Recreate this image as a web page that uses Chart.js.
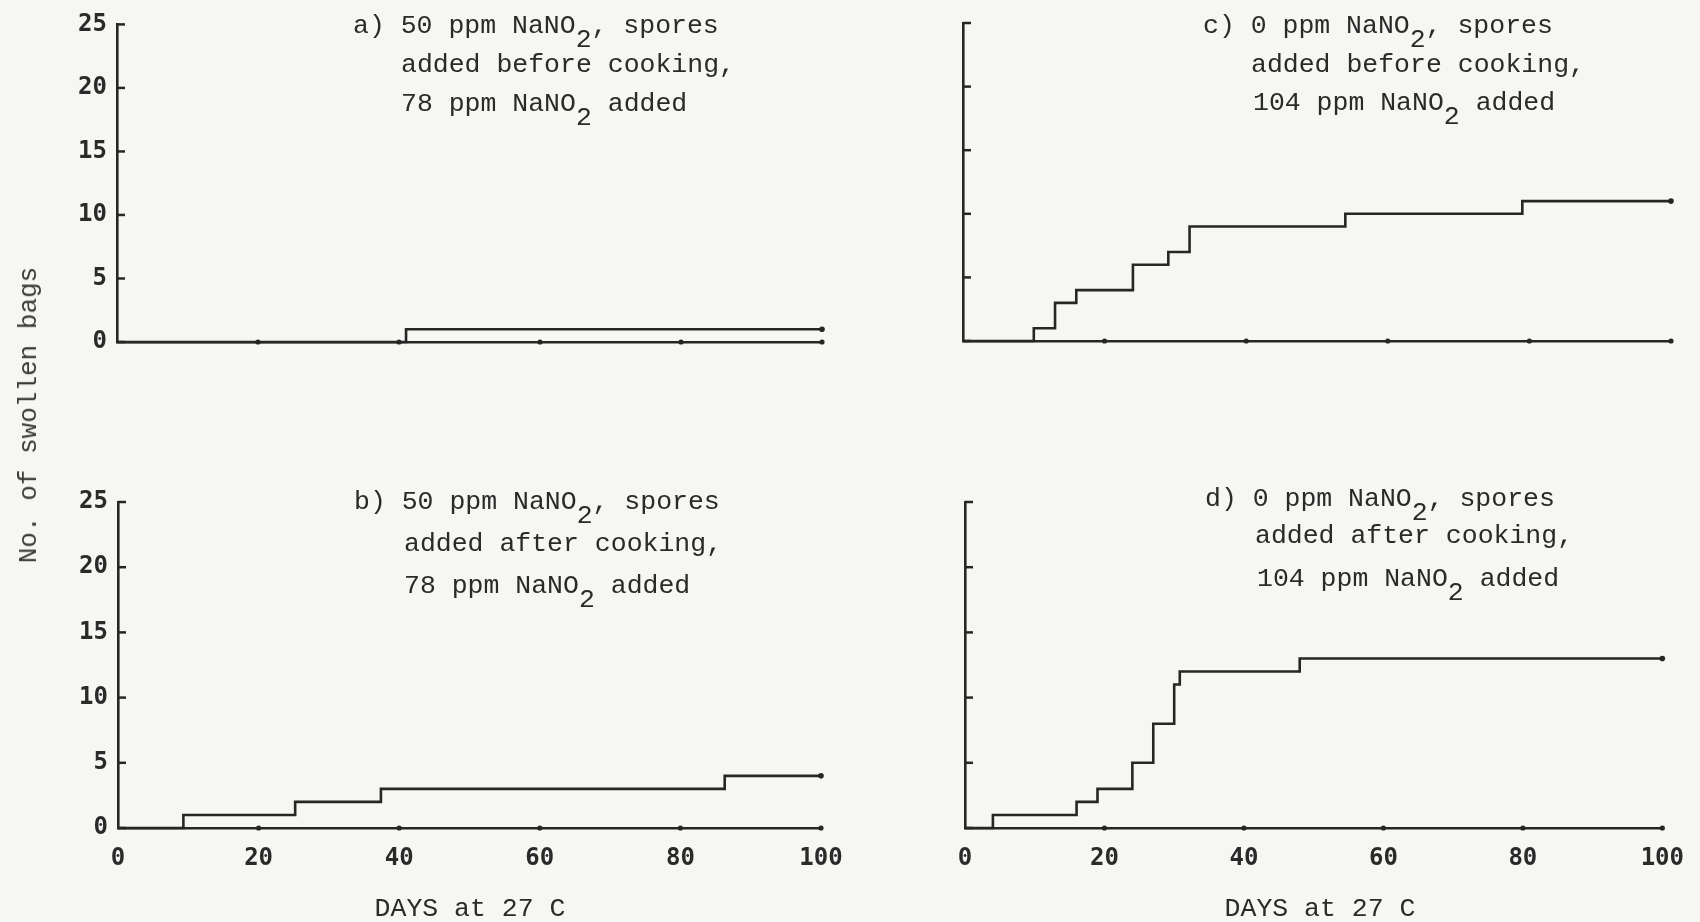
<!DOCTYPE html>
<html>
<head>
<meta charset="utf-8">
<script src="https://cdn.jsdelivr.net/npm/chart.js@4/dist/chart.umd.min.js"></script>
<style>
  html, body { margin: 0; padding: 0; background: #f6f6f3; }
  #wrap { position: relative; width: 1700px; height: 922px; background: #f6f6f3; overflow: hidden; }
  canvas { position: absolute; left: 0; top: 0; }
  .t { position: absolute; font-family: "Liberation Mono", "DejaVu Sans Mono", monospace; font-size: 26.5px; color: #2a2a2a; white-space: pre; line-height: 26px; }
  .sub { position: relative; top: 14px; }
  #ytitle { position: absolute; left: 29px; top: 415px; transform: translate(-50%, -50%) rotate(-90deg); font-family: "Liberation Mono", monospace; font-size: 26px; color: #3a3a3a; white-space: pre; line-height: 26px; }
  .xt { position: absolute; font-family: "Liberation Mono", monospace; font-size: 26.5px; color: #2a2a2a; white-space: pre; line-height: 26px; transform: translateX(-50%); }
</style>
</head>
<body>
<div id="wrap">
  <canvas id="ca" width="1700" height="922"></canvas>
  <canvas id="cb" width="1700" height="922"></canvas>
  <canvas id="cc" width="1700" height="922"></canvas>
  <canvas id="cd" width="1700" height="922"></canvas>

  <div class="t" style="left:353px; top:13px;">a) 50 ppm NaNO<span class="sub">2</span>, spores</div>
  <div class="t" style="left:401px; top:52px;">added before cooking,</div>
  <div class="t" style="left:401px; top:91px;">78 ppm NaNO<span class="sub">2</span> added</div>

  <div class="t" style="left:354px; top:489px;">b) 50 ppm NaNO<span class="sub">2</span>, spores</div>
  <div class="t" style="left:404px; top:531px;">added after cooking,</div>
  <div class="t" style="left:404px; top:573px;">78 ppm NaNO<span class="sub">2</span> added</div>

  <div class="t" style="left:1203px; top:13px;">c) 0 ppm NaNO<span class="sub">2</span>, spores</div>
  <div class="t" style="left:1251px; top:52px;">added before cooking,</div>
  <div class="t" style="left:1253px; top:90px;">104 ppm NaNO<span class="sub">2</span> added</div>

  <div class="t" style="left:1205px; top:486px;">d) 0 ppm NaNO<span class="sub">2</span>, spores</div>
  <div class="t" style="left:1255px; top:523px;">added after cooking,</div>
  <div class="t" style="left:1257px; top:566px;">104 ppm NaNO<span class="sub">2</span> added</div>

  <div id="ytitle">No. of swollen bags</div>
  <div class="xt" style="left:470px; top:896px;">DAYS at 27 C</div>
  <div class="xt" style="left:1320px; top:896px;">DAYS at 27 C</div>
</div>

<script>
// ---- data ----
const xTickValues = [0, 20, 40, 60, 80, 100];
const yTickValues = [0, 5, 10, 15, 20, 25];

// a) 50 ppm NaNO2, spores added before cooking
const daysA = [0, 41, 100];
const bagsA = [0, 1, 1];

// b) 50 ppm NaNO2, spores added after cooking
const daysB = [0, 9.3, 25.2, 37.4, 86.3, 100];
const bagsB = [0, 1, 2, 3, 4, 4];

// c) 0 ppm NaNO2, spores added before cooking
const daysC = [0, 10, 13, 16, 24, 29, 32, 54, 79, 100];
const bagsC = [0, 1, 3, 4, 6, 7, 9, 10, 11, 11];

// d) 0 ppm NaNO2, spores added after cooking
const daysD = [0, 4, 16, 19, 24, 27, 30, 30.8, 48, 100];
const bagsD = [0, 1, 2, 3, 5, 8, 11, 12, 13, 13];

// ---- drawing ----
const INK = '#262626';
const TICKFONT = { family: '"DejaVu Sans Mono", monospace', size: 24, weight: 'bold' };
const YW = 70, XH = 60;

const innerTicks = {
  id: 'innerTicks',
  afterDatasetsDraw(chart) {
    const ctx = chart.ctx, xs = chart.scales.x, ys = chart.scales.y;
    const a = chart.chartArea;
    ctx.save();
    ctx.strokeStyle = INK; ctx.fillStyle = INK; ctx.lineWidth = 2.5;
    yTickValues.forEach(v => {
      const py = ys.getPixelForValue(v);
      ctx.beginPath(); ctx.moveTo(a.left, py); ctx.lineTo(a.left + 8, py); ctx.stroke();
    });
    xTickValues.forEach(v => {
      if (v === 0) return;
      const px = xs.getPixelForValue(v);
      ctx.beginPath(); ctx.arc(px, a.bottom, 2.6, 0, Math.PI * 2); ctx.fill();
    });
    ctx.restore();
  }
};

function makeChart(id, days, bags, area, showX, showY) {
  const pts = days.map((d, i) => ({ x: d, y: bags[i] }));
  const radii = pts.map((p, i) => i === pts.length - 1 ? 2.8 : 0);
  return new Chart(document.getElementById(id), {
    type: 'line',
    data: { datasets: [{
      data: pts,
      stepped: 'before',
      borderColor: INK,
      backgroundColor: INK,
      borderWidth: 2.6,
      pointRadius: radii,
      pointBorderWidth: 0,
      fill: false,
      clip: false
    }]},
    options: {
      responsive: false,
      animation: false,
      events: [],
      layout: { padding: { left: area.l - YW, right: 1700 - area.r, top: area.t, bottom: 922 - area.b - XH } },
      plugins: { legend: { display: false }, tooltip: { enabled: false } },
      scales: {
        x: {
          type: 'linear', min: 0, max: 100,
          afterFit: s => { s.height = XH; },
          afterBuildTicks: s => { s.ticks = xTickValues.map(v => ({ value: v })); },
          border: { display: true, color: INK, width: 2.6 },
          grid: { display: false, drawOnChartArea: false, drawTicks: false },
          ticks: { display: showX, color: '#2a2a2a', font: TICKFONT, padding: 16, maxRotation: 0, autoSkip: false }
        },
        y: {
          type: 'linear', min: 0, max: 25,
          afterFit: s => { s.width = YW; },
          afterBuildTicks: s => { s.ticks = yTickValues.map(v => ({ value: v })); },
          border: { display: true, color: INK, width: 2.6 },
          grid: { display: false, drawOnChartArea: false, drawTicks: false },
          ticks: { display: showY, color: '#2a2a2a', font: TICKFONT, padding: 10, autoSkip: false }
        }
      }
    },
    plugins: [innerTicks]
  });
}

makeChart('ca', daysA, bagsA, { l: 117, r: 822, t: 22, b: 342 }, false, true);
makeChart('cb', daysB, bagsB, { l: 118, r: 821, t: 502, b: 828 }, true, true);
makeChart('cc', daysC, bagsC, { l: 963, r: 1671, t: 23, b: 341 }, false, false);
makeChart('cd', daysD, bagsD, { l: 965, r: 1672, t: 502, b: 828 }, true, false);
</script>
</body>
</html>
